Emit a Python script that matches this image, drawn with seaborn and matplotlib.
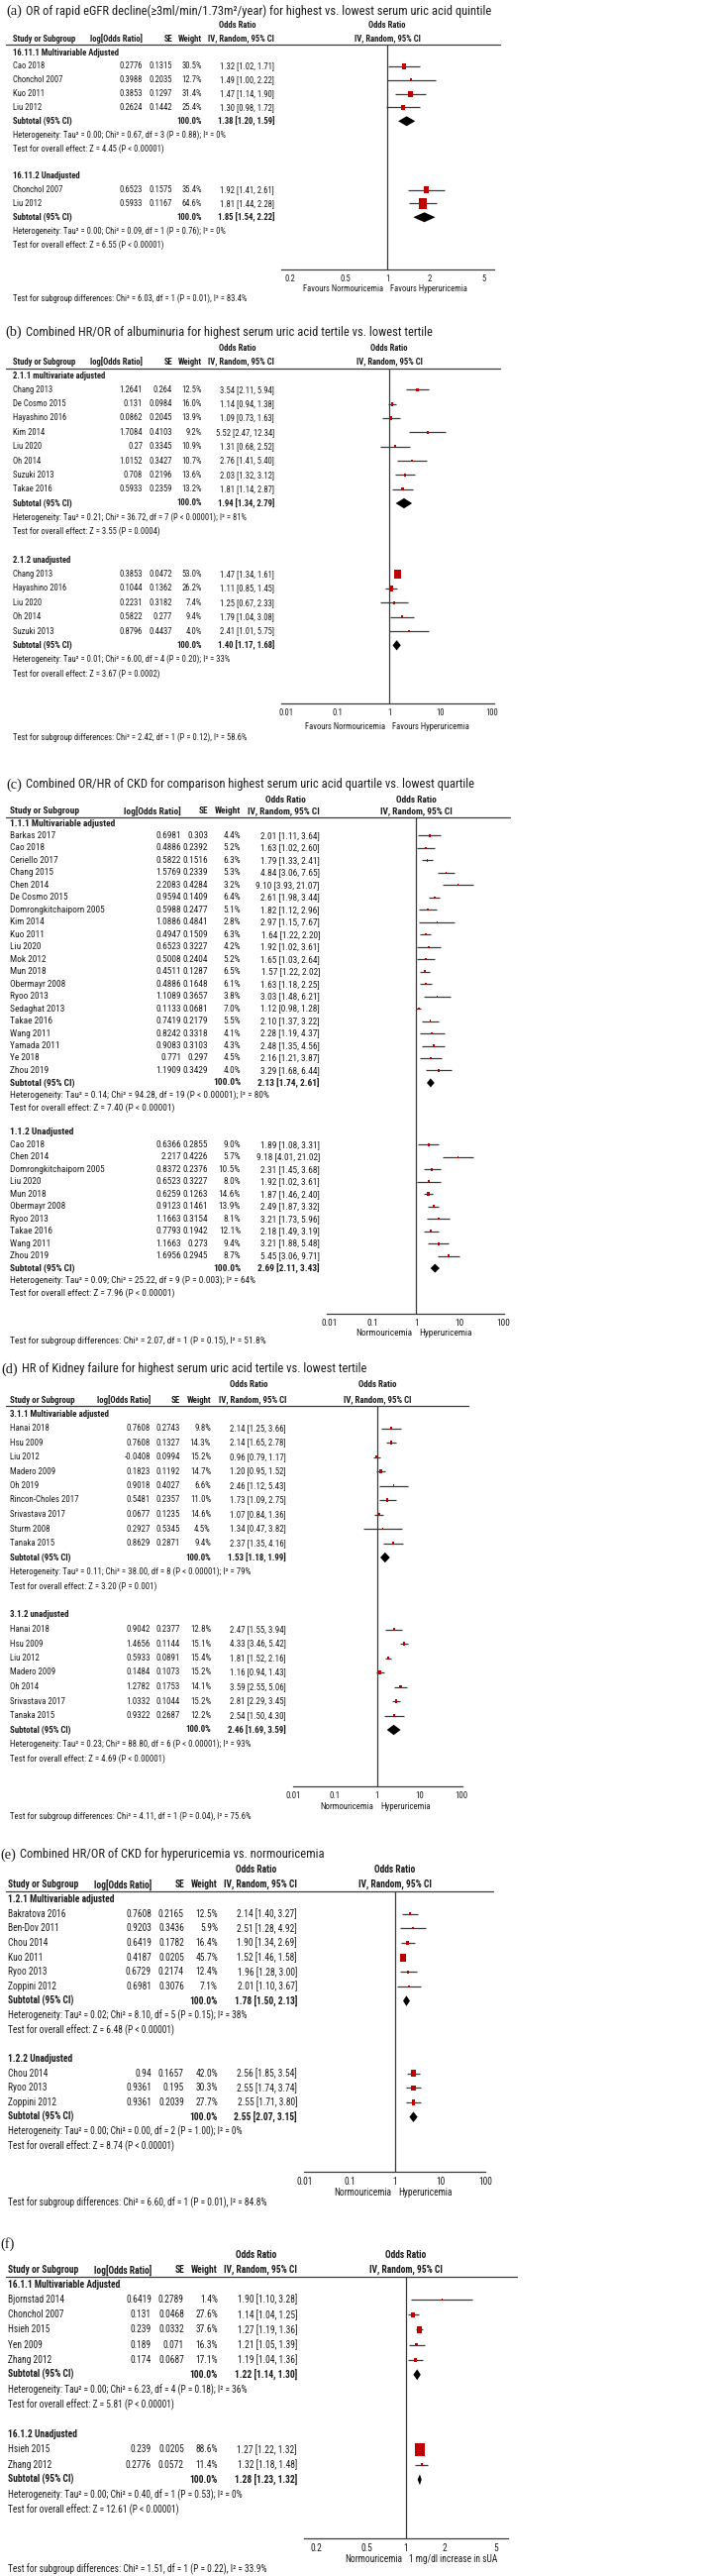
import matplotlib
matplotlib.use("Agg")
import pandas as pd
import matplotlib.pyplot as plt
import matplotlib.transforms as mtrans
from matplotlib.lines import Line2D
from matplotlib.path import Path
from matplotlib import font_manager
import seaborn as sns

# ---------------------------------------------------------------- data
# row = (study, log[OR], SE, weight %, OR, lower, upper)

# (a)
A_TITLE = "OR of rapid eGFR decline(≥3ml/min/1.73m²/year) for highest vs. lowest serum uric acid quintile"
A_GROUPS = ["16.11.1 Multivariable Adjusted", "16.11.2 Unadjusted"]
A_ADJ = [
    ("Cao 2018", 0.2776, 0.1315, 30.5, 1.32, 1.02, 1.71),
    ("Chonchol 2007", 0.3988, 0.2035, 12.7, 1.49, 1.00, 2.22),
    ("Kuo 2011", 0.3853, 0.1297, 31.4, 1.47, 1.14, 1.90),
    ("Liu 2012", 0.2624, 0.1442, 25.4, 1.30, 0.98, 1.72),
]
A_UNADJ = [
    ("Chonchol 2007", 0.6523, 0.1575, 35.4, 1.92, 1.41, 2.61),
    ("Liu 2012", 0.5933, 0.1167, 64.6, 1.81, 1.44, 2.28),
]
A_TOTALS = [(1.38, 1.20, 1.59), (1.85, 1.54, 2.22)]
A_HET = ["Tau² = 0.00; Chi² = 0.67, df = 3 (P = 0.88); I² = 0%",
         "Tau² = 0.00; Chi² = 0.09, df = 1 (P = 0.76); I² = 0%"]
A_Z = ["Z = 4.45 (P < 0.00001)", "Z = 6.55 (P < 0.00001)"]
A_SUB = "Chi² = 6.03, df = 1 (P = 0.01), I² = 83.4%"
A_TICKS = [0.2, 0.5, 1, 2, 5]
A_SIDES = ["Favours Normouricemia", "Favours Hyperuricemia"]

# (b)
B_TITLE = "Combined HR/OR of albuminuria for highest serum uric acid tertile vs. lowest tertile"
B_GROUPS = ["2.1.1 multivariate adjusted", "2.1.2 unadjusted"]
B_ADJ = [
    ("Chang 2013", 1.2641, 0.264, 12.5, 3.54, 2.11, 5.94),
    ("De Cosmo 2015", 0.131, 0.0984, 16.0, 1.14, 0.94, 1.38),
    ("Hayashino 2016", 0.0862, 0.2045, 13.9, 1.09, 0.73, 1.63),
    ("Kim 2014", 1.7084, 0.4103, 9.2, 5.52, 2.47, 12.34),
    ("Liu 2020", 0.27, 0.3345, 10.9, 1.31, 0.68, 2.52),
    ("Oh 2014", 1.0152, 0.3427, 10.7, 2.76, 1.41, 5.40),
    ("Suzuki 2013", 0.708, 0.2196, 13.6, 2.03, 1.32, 3.12),
    ("Takae 2016", 0.5933, 0.2359, 13.2, 1.81, 1.14, 2.87),
]
B_UNADJ = [
    ("Chang 2013", 0.3853, 0.0472, 53.0, 1.47, 1.34, 1.61),
    ("Hayashino 2016", 0.1044, 0.1362, 26.2, 1.11, 0.85, 1.45),
    ("Liu 2020", 0.2231, 0.3182, 7.4, 1.25, 0.67, 2.33),
    ("Oh 2014", 0.5822, 0.277, 9.4, 1.79, 1.04, 3.08),
    ("Suzuki 2013", 0.8796, 0.4437, 4.0, 2.41, 1.01, 5.75),
]
B_TOTALS = [(1.94, 1.34, 2.79), (1.40, 1.17, 1.68)]
B_HET = ["Tau² = 0.21; Chi² = 36.72, df = 7 (P < 0.00001); I² = 81%",
         "Tau² = 0.01; Chi² = 6.00, df = 4 (P = 0.20); I² = 33%"]
B_Z = ["Z = 3.55 (P = 0.0004)", "Z = 3.67 (P = 0.0002)"]
B_SUB = "Chi² = 2.42, df = 1 (P = 0.12), I² = 58.6%"
B_TICKS = [0.01, 0.1, 1, 10, 100]
B_SIDES = ["Favours Normouricemia", "Favours Hyperuricemia"]

# (c)
C_TITLE = "Combined OR/HR of CKD for comparison highest serum uric acid quartile vs. lowest quartile"
C_GROUPS = ["1.1.1 Multivariable adjusted", "1.1.2 Unadjusted"]
C_ADJ = [
    ("Barkas 2017", 0.6981, 0.303, 4.4, 2.01, 1.11, 3.64),
    ("Cao 2018", 0.4886, 0.2392, 5.2, 1.63, 1.02, 2.60),
    ("Ceriello 2017", 0.5822, 0.1516, 6.3, 1.79, 1.33, 2.41),
    ("Chang 2015", 1.5769, 0.2339, 5.3, 4.84, 3.06, 7.65),
    ("Chen 2014", 2.2083, 0.4284, 3.2, 9.10, 3.93, 21.07),
    ("De Cosmo 2015", 0.9594, 0.1409, 6.4, 2.61, 1.98, 3.44),
    ("Domrongkitchaiporn 2005", 0.5988, 0.2477, 5.1, 1.82, 1.12, 2.96),
    ("Kim 2014", 1.0886, 0.4841, 2.8, 2.97, 1.15, 7.67),
    ("Kuo 2011", 0.4947, 0.1509, 6.3, 1.64, 1.22, 2.20),
    ("Liu 2020", 0.6523, 0.3227, 4.2, 1.92, 1.02, 3.61),
    ("Mok 2012", 0.5008, 0.2404, 5.2, 1.65, 1.03, 2.64),
    ("Mun 2018", 0.4511, 0.1287, 6.5, 1.57, 1.22, 2.02),
    ("Obermayr 2008", 0.4886, 0.1648, 6.1, 1.63, 1.18, 2.25),
    ("Ryoo 2013", 1.1089, 0.3657, 3.8, 3.03, 1.48, 6.21),
    ("Sedaghat 2013", 0.1133, 0.0681, 7.0, 1.12, 0.98, 1.28),
    ("Takae 2016", 0.7419, 0.2179, 5.5, 2.10, 1.37, 3.22),
    ("Wang 2011", 0.8242, 0.3318, 4.1, 2.28, 1.19, 4.37),
    ("Yamada 2011", 0.9083, 0.3103, 4.3, 2.48, 1.35, 4.56),
    ("Ye 2018", 0.771, 0.297, 4.5, 2.16, 1.21, 3.87),
    ("Zhou 2019", 1.1909, 0.3429, 4.0, 3.29, 1.68, 6.44),
]
C_UNADJ = [
    ("Cao 2018", 0.6366, 0.2855, 9.0, 1.89, 1.08, 3.31),
    ("Chen 2014", 2.217, 0.4226, 5.7, 9.18, 4.01, 21.02),
    ("Domrongkitchaiporn 2005", 0.8372, 0.2376, 10.5, 2.31, 1.45, 3.68),
    ("Liu 2020", 0.6523, 0.3227, 8.0, 1.92, 1.02, 3.61),
    ("Mun 2018", 0.6259, 0.1263, 14.6, 1.87, 1.46, 2.40),
    ("Obermayr 2008", 0.9123, 0.1461, 13.9, 2.49, 1.87, 3.32),
    ("Ryoo 2013", 1.1663, 0.3154, 8.1, 3.21, 1.73, 5.96),
    ("Takae 2016", 0.7793, 0.1942, 12.1, 2.18, 1.49, 3.19),
    ("Wang 2011", 1.1663, 0.273, 9.4, 3.21, 1.88, 5.48),
    ("Zhou 2019", 1.6956, 0.2945, 8.7, 5.45, 3.06, 9.71),
]
C_TOTALS = [(2.13, 1.74, 2.61), (2.69, 2.11, 3.43)]
C_HET = ["Tau² = 0.14; Chi² = 94.28, df = 19 (P < 0.00001); I² = 80%",
         "Tau² = 0.09; Chi² = 25.22, df = 9 (P = 0.003); I² = 64%"]
C_Z = ["Z = 7.40 (P < 0.00001)", "Z = 7.96 (P < 0.00001)"]
C_SUB = "Chi² = 2.07, df = 1 (P = 0.15), I² = 51.8%"
C_TICKS = [0.01, 0.1, 1, 10, 100]
C_SIDES = ["Normouricemia", "Hyperuricemia"]

# (d)
D_TITLE = "HR of Kidney failure for highest serum uric acid tertile vs. lowest tertile"
D_GROUPS = ["3.1.1 Multivariable adjusted", "3.1.2 unadjusted"]
D_ADJ = [
    ("Hanai 2018", 0.7608, 0.2743, 9.8, 2.14, 1.25, 3.66),
    ("Hsu 2009", 0.7608, 0.1327, 14.3, 2.14, 1.65, 2.78),
    ("Liu 2012", -0.0408, 0.0994, 15.2, 0.96, 0.79, 1.17),
    ("Madero 2009", 0.1823, 0.1192, 14.7, 1.20, 0.95, 1.52),
    ("Oh 2019", 0.9018, 0.4027, 6.6, 2.46, 1.12, 5.43),
    ("Rincon-Choles 2017", 0.5481, 0.2357, 11.0, 1.73, 1.09, 2.75),
    ("Srivastava 2017", 0.0677, 0.1235, 14.6, 1.07, 0.84, 1.36),
    ("Sturm 2008", 0.2927, 0.5345, 4.5, 1.34, 0.47, 3.82),
    ("Tanaka 2015", 0.8629, 0.2871, 9.4, 2.37, 1.35, 4.16),
]
D_UNADJ = [
    ("Hanai 2018", 0.9042, 0.2377, 12.8, 2.47, 1.55, 3.94),
    ("Hsu 2009", 1.4656, 0.1144, 15.1, 4.33, 3.46, 5.42),
    ("Liu 2012", 0.5933, 0.0891, 15.4, 1.81, 1.52, 2.16),
    ("Madero 2009", 0.1484, 0.1073, 15.2, 1.16, 0.94, 1.43),
    ("Oh 2014", 1.2782, 0.1753, 14.1, 3.59, 2.55, 5.06),
    ("Srivastava 2017", 1.0332, 0.1044, 15.2, 2.81, 2.29, 3.45),
    ("Tanaka 2015", 0.9322, 0.2687, 12.2, 2.54, 1.50, 4.30),
]
D_TOTALS = [(1.53, 1.18, 1.99), (2.46, 1.69, 3.59)]
D_HET = ["Tau² = 0.11; Chi² = 38.00, df = 8 (P < 0.00001); I² = 79%",
         "Tau² = 0.23; Chi² = 88.80, df = 6 (P < 0.00001); I² = 93%"]
D_Z = ["Z = 3.20 (P = 0.001)", "Z = 4.69 (P < 0.00001)"]
D_SUB = "Chi² = 4.11, df = 1 (P = 0.04), I² = 75.6%"
D_TICKS = [0.01, 0.1, 1, 10, 100]
D_SIDES = ["Normouricemia", "Hyperuricemia"]

# (e)
E_TITLE = "Combined HR/OR of CKD for hyperuricemia vs. normouricemia"
E_GROUPS = ["1.2.1 Multivariable adjusted", "1.2.2 Unadjusted"]
E_ADJ = [
    ("Bakratova 2016", 0.7608, 0.2165, 12.5, 2.14, 1.40, 3.27),
    ("Ben-Dov 2011", 0.9203, 0.3436, 5.9, 2.51, 1.28, 4.92),
    ("Chou 2014", 0.6419, 0.1782, 16.4, 1.90, 1.34, 2.69),
    ("Kuo 2011", 0.4187, 0.0205, 45.7, 1.52, 1.46, 1.58),
    ("Ryoo 2013", 0.6729, 0.2174, 12.4, 1.96, 1.28, 3.00),
    ("Zoppini 2012", 0.6981, 0.3076, 7.1, 2.01, 1.10, 3.67),
]
E_UNADJ = [
    ("Chou 2014", 0.94, 0.1657, 42.0, 2.56, 1.85, 3.54),
    ("Ryoo 2013", 0.9361, 0.195, 30.3, 2.55, 1.74, 3.74),
    ("Zoppini 2012", 0.9361, 0.2039, 27.7, 2.55, 1.71, 3.80),
]
E_TOTALS = [(1.78, 1.50, 2.13), (2.55, 2.07, 3.15)]
E_HET = ["Tau² = 0.02; Chi² = 8.10, df = 5 (P = 0.15); I² = 38%",
         "Tau² = 0.00; Chi² = 0.00, df = 2 (P = 1.00); I² = 0%"]
E_Z = ["Z = 6.48 (P < 0.00001)", "Z = 8.74 (P < 0.00001)"]
E_SUB = "Chi² = 6.60, df = 1 (P = 0.01), I² = 84.8%"
E_TICKS = [0.01, 0.1, 1, 10, 100]
E_SIDES = ["Normouricemia", "Hyperuricemia"]

# (f)
F_TITLE = None
F_GROUPS = ["16.1.1 Multivariable Adjusted", "16.1.2 Unadjusted"]
F_ADJ = [
    ("Bjornstad 2014", 0.6419, 0.2789, 1.4, 1.90, 1.10, 3.28),
    ("Chonchol 2007", 0.131, 0.0468, 27.6, 1.14, 1.04, 1.25),
    ("Hsieh 2015", 0.239, 0.0332, 37.6, 1.27, 1.19, 1.36),
    ("Yen 2009", 0.189, 0.071, 16.3, 1.21, 1.05, 1.39),
    ("Zhang 2012", 0.174, 0.0687, 17.1, 1.19, 1.04, 1.36),
]
F_UNADJ = [
    ("Hsieh 2015", 0.239, 0.0205, 88.6, 1.27, 1.22, 1.32),
    ("Zhang 2012", 0.2776, 0.0572, 11.4, 1.32, 1.18, 1.48),
]
F_TOTALS = [(1.22, 1.14, 1.30), (1.28, 1.23, 1.32)]
F_HET = ["Tau² = 0.00; Chi² = 6.23, df = 4 (P = 0.18); I² = 36%",
         "Tau² = 0.00; Chi² = 0.40, df = 1 (P = 0.53); I² = 0%"]
F_Z = ["Z = 5.81 (P < 0.00001)", "Z = 12.61 (P < 0.00001)"]
F_SUB = "Chi² = 1.51, df = 1 (P = 0.22), I² = 33.9%"
F_TICKS = [0.2, 0.5, 1, 2, 5]
F_SIDES = ["Normouricemia", "1 mg/dl increase in sUA"]

# ---------------------------------------------------------------- layout (pixels)
LAYOUT = {
    "a": dict(title_x=26, title_y=11, or_y=26, hdr_y=39, line_y=45, first_y=53, last_y=247,
              axis_y=272, side_y=292, diff_y=301, name_x=13, logor_x=144, se_x=174, w_x=204,
              ci_x=277, ci_c=240, ax_l=284, ax_r=499, line_r=505, xlim=(0.1725, 5.89), het_w=214),
    "b": dict(title_x=26, title_y=335, or_y=351, hdr_y=365, line_y=372, first_y=379, last_y=680,
              axis_y=710, side_y=733, diff_y=744, name_x=13, logor_x=144, se_x=174, w_x=204,
              ci_x=277, ci_c=240, ax_l=284, ax_r=499, line_r=505, xlim=(0.00801, 109.3), het_w=236),
    "c": dict(title_x=26, title_y=792, or_y=807, hdr_y=819, line_y=825, first_y=831, last_y=1305,
              axis_y=1326, side_y=1346, diff_y=1353, name_x=10, logor_x=183, se_x=210, w_x=243,
              ci_x=323, ci_c=288, ax_l=330, ax_r=509, line_r=515, xlim=(0.00854, 105.4), het_w=261),
    "d": dict(title_x=22, title_y=1382, or_y=1398, hdr_y=1413, line_y=1419, first_y=1427, last_y=1775,
              axis_y=1803, side_y=1824, diff_y=1833, name_x=10, logor_x=152, se_x=182, w_x=213,
              ci_x=289, ci_c=251, ax_l=296, ax_r=467, line_r=473, xlim=(0.01, 105.6), het_w=243),
    "e": dict(title_x=20, title_y=1872, or_y=1887, hdr_y=1902, line_y=1909, first_y=1917, last_y=2166,
              axis_y=2192, side_y=2213, diff_y=2223, name_x=8, logor_x=153, se_x=186, w_x=220,
              ci_x=300, ci_c=259, ax_l=307, ax_r=490, line_r=498, xlim=(0.0095, 100.0), het_w=241),
    "f": dict(title_x=19, title_y=2265, or_y=2276, hdr_y=2291, line_y=2298, first_y=2306, last_y=2533,
              axis_y=2562, side_y=2583, diff_y=2593, name_x=8, logor_x=153, se_x=186, w_x=220,
              ci_x=300, ci_c=259, ax_l=307, ax_r=513, line_r=522, xlim=(0.1618, 6.18), het_w=241),
}

RED = "#c00000"
INK = "#1c1c1c"
GREY = "#3a3a3a"
BOX = Path([(-0.72, -1), (0.72, -1), (0.72, 1), (-0.72, 1), (-0.72, -1)], closed=True)

# ---------------------------------------------------------------- style
sns.set_style("white")

# the source figure is set in a narrow face; use the narrowest sans that is installed
entries = font_manager.fontManager.ttflist
names = {f.name for f in entries}
condensed = {f.name for f in entries if str(f.stretch) in ("condensed", "semi-condensed", "extra-condensed")}
SANS, STRETCH = "Liberation Sans", "normal"
for fam in ["Liberation Sans Narrow", "Arial Narrow", "Roboto Condensed", "Open Sans Condensed"]:
    if fam in names:
        SANS = fam
        break
else:
    for fam in ["Liberation Sans", "DejaVu Sans", "Noto Sans", "Roboto", "Open Sans"]:
        if fam in condensed:
            SANS, STRETCH = fam, "condensed"
            break
SERIF = "Liberation Serif" if "Liberation Serif" in names else "DejaVu Serif"
plt.rcParams["font.family"] = [SANS, "DejaVu Sans"]
plt.rcParams["font.stretch"] = STRETCH

W, H = 719, 2600
fig = plt.figure(figsize=(W / 100, H / 100), dpi=100)
fig.patch.set_facecolor("white")
renderer = fig.canvas.get_renderer()


def fy(y):
    return 1 - y / H


def fit(text, width, cap, grow=1.0):
    # font size that makes `text` about `width` px wide
    t = fig.text(0, 0, text, fontsize=10)
    w = t.get_window_extent(renderer).width
    t.remove()
    return min(cap, grow * 10 * width / w)


TITLE_FS = fit(A_TITLE, 433, 11, grow=1.08)


def draw_panel(key, title, groups, rows, totals, het, zstat, sub, ticks, sides):
    L = LAYOUT[key]
    fs = fit("Heterogeneity: " + het[0], L["het_w"], 8.2)
    T = dict(fontsize=fs, va="center", color=INK)
    B = dict(T, fontweight="bold")

    fig.text((L["title_x"] - 4) / W, fy(L["title_y"]), f"({key})", family=SERIF,
             fontsize=TITLE_FS * 1.15, ha="right", va="center", color=INK)
    if title:
        fig.text(L["title_x"] / W, fy(L["title_y"]), title, fontsize=TITLE_FS, va="center", color=INK)

    # table header
    hy = fy(L["hdr_y"])
    fig.text(L["ci_c"] / W, fy(L["or_y"]), "Odds Ratio", ha="center", **B)
    fig.text(L["name_x"] / W, hy, "Study or Subgroup", **B)
    fig.text(L["logor_x"] / W, hy, "log[Odds Ratio]", ha="right", **B)
    fig.text(L["se_x"] / W, hy, "SE", ha="right", **B)
    fig.text(L["w_x"] / W, hy, "Weight", ha="right", **B)
    fig.text(L["ci_x"] / W, hy, "IV, Random, 95% CI", ha="right", **B)
    fig.add_artist(Line2D([6 / W, L["line_r"] / W], [fy(L["line_y"])] * 2,
                          transform=fig.transFigure, color=GREY, lw=0.9))

    n1, n2 = len(rows[0]), len(rows[1])
    step = (L["last_y"] - L["first_y"]) / (n1 + n2 + 8)

    ax = fig.add_axes([L["ax_l"] / W, fy(L["axis_y"]), (L["ax_r"] - L["ax_l"]) / W,
                       (L["axis_y"] - L["line_y"]) / H])
    ax.set_xscale("log")
    ax.set_facecolor("none")

    recs, subs = [], []
    start = 0
    for g in range(2):
        ypx = lambda i: L["first_y"] + (start + i) * step
        fig.text(L["name_x"] / W, fy(ypx(0)), groups[g], **B)
        for j, (study, lor, se, w, est, lo, hi) in enumerate(rows[g]):
            y = ypx(j + 1)
            fig.text(L["name_x"] / W, fy(y), study, **T)
            fig.text(L["logor_x"] / W, fy(y), str(lor), ha="right", **T)
            fig.text(L["se_x"] / W, fy(y), str(se), ha="right", **T)
            fig.text(L["w_x"] / W, fy(y), f"{w:.1f}%", ha="right", **T)
            fig.text(L["ci_x"] / W, fy(y), f"{est:.2f} [{lo:.2f}, {hi:.2f}]", ha="right", **T)
            recs.append(dict(y=y, est=est, lo=lo, hi=hi, weight=w))
        n = len(rows[g])
        ys = ypx(n + 1)
        est, lo, hi = totals[g]
        fig.text(L["name_x"] / W, fy(ys), "Subtotal (95% CI)", **B)
        fig.text(L["w_x"] / W, fy(ys), "100.0%", ha="right", **B)
        fig.text(L["ci_x"] / W, fy(ys), f"{est:.2f} [{lo:.2f}, {hi:.2f}]", ha="right", **B)
        subs.append((ys, est, lo, hi))
        fig.text(L["name_x"] / W, fy(ypx(n + 2)), "Heterogeneity: " + het[g], **T)
        fig.text(L["name_x"] / W, fy(ypx(n + 3)), "Test for overall effect: " + zstat[g], **T)
        start += n + 5

    df = pd.DataFrame(recs)
    df["box"] = (0.72 * (1.5 + 0.14 * df["weight"])) ** 2

    ax.axvline(1, color=GREY, lw=0.9, zorder=1)
    ax.hlines(df["y"], df["lo"], df["hi"], color=GREY, lw=0.9, zorder=2)
    sns.scatterplot(data=df, x="est", y="y", size="box", sizes=(0, 600), size_norm=(0, 600),
                    marker=BOX, color=RED, linewidth=0, legend=False, ax=ax, zorder=3)
    dh = 0.36 * step
    for ys, est, lo, hi in subs:
        ax.fill([lo, est, hi, est], [ys, ys - dh, ys, ys + dh], color="black", lw=0, zorder=3)

    ax.set_xlim(*L["xlim"])
    ax.set_ylim(L["axis_y"], L["line_y"])
    ax.set(xlabel="", ylabel="", yticks=[])
    sns.despine(ax=ax, left=True)
    ax.spines["bottom"].set_color(GREY)
    ax.spines["bottom"].set_linewidth(0.9)
    ax.set_xticks(ticks)
    ax.set_xticklabels([f"{t:g}" for t in ticks])
    ax.xaxis.set_minor_locator(matplotlib.ticker.NullLocator())
    ax.tick_params(axis="x", direction="inout", length=5, width=0.9, pad=1,
                   labelsize=fs, colors=GREY, labelcolor=INK)

    # right-hand header and side labels centred on OR = 1
    trans = mtrans.blended_transform_factory(ax.transData, fig.transFigure)
    ax.text(1, fy(L["or_y"]), "Odds Ratio", ha="center", transform=trans, **B)
    ax.text(1, hy, "IV, Random, 95% CI", ha="center", transform=trans, **B)
    ax.text(1, fy(L["side_y"]), sides[0], ha="right",
            transform=mtrans.offset_copy(trans, fig=fig, x=-4, units="dots"), **T)
    ax.text(1, fy(L["side_y"]), sides[1], ha="left",
            transform=mtrans.offset_copy(trans, fig=fig, x=3, units="dots"), **T)

    fig.text(L["name_x"] / W, fy(L["diff_y"]), "Test for subgroup differences: " + sub, **T)


draw_panel("a", A_TITLE, A_GROUPS, (A_ADJ, A_UNADJ), A_TOTALS, A_HET, A_Z, A_SUB, A_TICKS, A_SIDES)
draw_panel("b", B_TITLE, B_GROUPS, (B_ADJ, B_UNADJ), B_TOTALS, B_HET, B_Z, B_SUB, B_TICKS, B_SIDES)
draw_panel("c", C_TITLE, C_GROUPS, (C_ADJ, C_UNADJ), C_TOTALS, C_HET, C_Z, C_SUB, C_TICKS, C_SIDES)
draw_panel("d", D_TITLE, D_GROUPS, (D_ADJ, D_UNADJ), D_TOTALS, D_HET, D_Z, D_SUB, D_TICKS, D_SIDES)
draw_panel("e", E_TITLE, E_GROUPS, (E_ADJ, E_UNADJ), E_TOTALS, E_HET, E_Z, E_SUB, E_TICKS, E_SIDES)
draw_panel("f", F_TITLE, F_GROUPS, (F_ADJ, F_UNADJ), F_TOTALS, F_HET, F_Z, F_SUB, F_TICKS, F_SIDES)

fig.savefig("out.png", dpi=100, facecolor="white")
